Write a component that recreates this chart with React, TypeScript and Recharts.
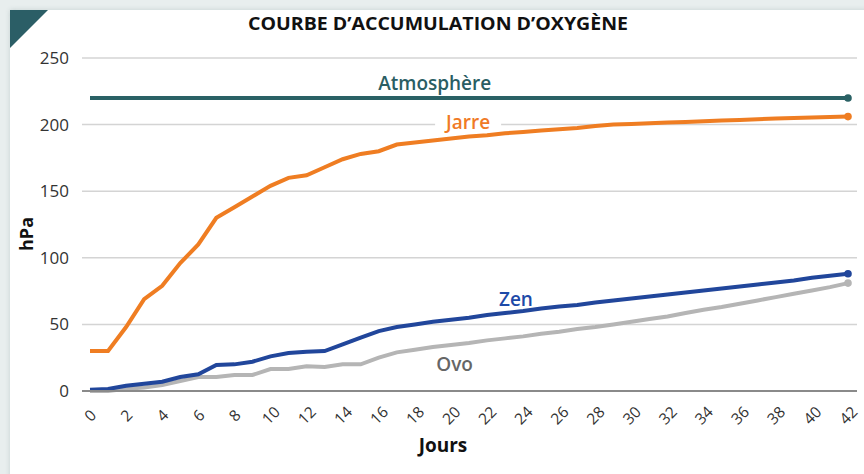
import React from 'react';
import { LineChart, Line, XAxis, YAxis, CartesianGrid, ReferenceDot } from 'recharts';

const days = [0, 1, 2, 3, 4, 5, 6, 7, 8, 9, 10, 11, 12, 13, 14, 15, 16, 17, 18, 19, 20, 21, 22, 23, 24, 25, 26, 27, 28, 29, 30, 31, 32, 33, 34, 35, 36, 37, 38, 39, 40, 41, 42];
const jarre = [30, 30, 48, 69, 79, 96, 110, 130, 138, 146, 154, 160, 162, 168, 174, 178, 180, 185, 186.5, 188, 189.5, 191, 192, 193.5, 194.5, 195.5, 196.5, 197.5, 199, 200, 200.5, 201, 201.5, 202, 202.5, 203, 203.5, 204, 204.5, 205, 205.3, 205.7, 206];
const zen = [1, 1.5, 4, 5.5, 7, 10.5, 12.5, 19.5, 20, 22, 26, 28.5, 29.5, 30, 35, 40, 45, 48, 50, 52, 53.5, 55, 57, 58.5, 60, 62, 63.5, 64.5, 66.5, 68, 69.5, 71, 72.5, 74, 75.5, 77, 78.5, 80, 81.5, 83, 85, 86.5, 88];
const ovo = [0, 0, 1.7, 2.7, 4.5, 7.5, 10.5, 10.5, 12, 12, 16.5, 16.5, 18.5, 18, 20, 20, 25, 29, 31, 33, 34.5, 36, 38, 39.5, 41, 43, 44.5, 46.5, 48, 50, 52, 54, 56, 58.5, 61, 63, 65.5, 68, 70.5, 73, 75.5, 78, 81];
const atmosphereDays = [0, 42];
const atmosphere = [220, 220];

const xTicks = [0, 2, 4, 6, 8, 10, 12, 14, 16, 18, 20, 22, 24, 26, 28, 30, 32, 34, 36, 38, 40, 42];
const yTicks = [0, 50, 100, 150, 200, 250];

const seriesNames = ['Atmosphère', 'Jarre', 'Zen', 'Ovo'];
const seriesColors = ['#2a6165', '#ef7d22', '#21469b', '#b5b5b5'];
const labelColors = ['#2a5d63', '#f07a26', '#1d4aa8', '#666666'];
const labelDays = [19.1, 20.95, 23.6, 20.2];
const labelValues = [231, 202.3, 69, 20.6];
const labelBoxWidths = [136, 66, 0, 0];

const title = "COURBE D\u2019ACCUMULATION D\u2019OXYGÈNE";
const xTitle = 'Jours';
const yTitle = 'hPa';

const data = days.map((d, i) => ({ day: d, jarre: jarre[i], zen: zen[i], ovo: ovo[i] }));
const atmData = atmosphereDays.map((d, i) => ({ day: d, atm: atmosphere[i] }));

const FONT = "'Open Sans', 'Noto Sans', sans-serif";

const endDot = (color: string, last: number) => (props: any) => {
  if (props.index === last) {
    return <circle key={`d${props.index}`} cx={props.cx} cy={props.cy} r={3.8} fill={color} />;
  }
  return <g key={`d${props.index}`} />;
};

const XTick = (props: any) => {
  const { x, y, payload } = props;
  return (
    <g transform={`translate(${x},${y + 16})`}>
      <text
        transform="rotate(-45)"
        textAnchor="middle"
        dominantBaseline="central"
        fontSize={15.5}
        fontFamily={FONT}
        fill="#333"
      >
        {payload.value}
      </text>
    </g>
  );
};

const seriesLabel = (i: number) => (p: any) => {
  const w = labelBoxWidths[i];
  return (
    <g>
      {w > 0 && (
        <rect x={p.cx - w / 2} y={p.cy - 12} width={w} height={i === 0 ? 22 : 20} fill="#fff" />
      )}
      <text
        x={p.cx}
        y={p.cy}
        textAnchor="middle"
        dominantBaseline="central"
        fontSize={19}
        fontFamily={FONT}
        fontWeight={600}
        fill={labelColors[i]}
      >
        {seriesNames[i]}
      </text>
    </g>
  );
};

export default function App() {
  return (
    <div style={{ position: 'absolute', left: 0, top: 0, width: 864, height: 474, background: '#e8eeee', overflow: 'hidden' }}>
      <div
        style={{
          position: 'absolute',
          left: 10,
          top: 10,
          width: 860,
          height: 470,
          background: '#ffffff',
          boxShadow: '0 0 5px rgba(40,80,80,0.18)',
        }}
      />
      <div style={{ position: 'absolute', left: 0, top: 0 }}>
        <LineChart width={864} height={474} data={data} margin={{ top: 58, right: 7, left: 0, bottom: 0 }}>
          <CartesianGrid vertical={false} stroke="#d4d4d4" strokeWidth={1.5} />
          <XAxis
            dataKey="day"
            type="number"
            domain={[0, 42]}
            ticks={xTicks}
            interval={0}
            padding={{ left: 8, right: 9 }}
            height={83}
            tickLine={false}
            axisLine={{ stroke: '#8a8a8a', strokeWidth: 2 }}
            tick={<XTick />}
          />
          <YAxis
            type="number"
            domain={[0, 250]}
            ticks={yTicks}
            width={82}
            axisLine={false}
            tickLine={false}
            tickMargin={7}
            tick={{ fontSize: 17, fill: '#333', fontFamily: FONT }}
          />
          <Line
            data={atmData}
            dataKey="atm"
            stroke={seriesColors[0]}
            strokeWidth={4}
            dot={endDot(seriesColors[0], atmData.length - 1)}
            activeDot={false}
            isAnimationActive={false}
          />
          <Line
            dataKey="ovo"
            stroke={seriesColors[3]}
            strokeWidth={4}
            dot={endDot(seriesColors[3], days.length - 1)}
            activeDot={false}
            isAnimationActive={false}
          />
          <Line
            dataKey="zen"
            stroke={seriesColors[2]}
            strokeWidth={4}
            dot={endDot(seriesColors[2], days.length - 1)}
            activeDot={false}
            isAnimationActive={false}
          />
          <Line
            dataKey="jarre"
            stroke={seriesColors[1]}
            strokeWidth={4}
            dot={endDot(seriesColors[1], days.length - 1)}
            activeDot={false}
            isAnimationActive={false}
          />
          {seriesNames.map((n, i) => (
            <ReferenceDot
              key={n}
              x={labelDays[i]}
              y={labelValues[i]}
              r={0}
              ifOverflow="visible"
              shape={seriesLabel(i)}
            />
          ))}
        </LineChart>
      </div>
      <svg width={864} height={474} style={{ position: 'absolute', left: 0, top: 0, pointerEvents: 'none' }}>
        <polygon points="10,10 48,10 10,48" fill="#2b5e66" />
        <text
          x={438}
          y={30}
          textAnchor="middle"
          fontSize={17}
          fontWeight={700}
          fontFamily={FONT}
          fill="#111"
          textLength={380}
          lengthAdjust="spacingAndGlyphs"
        >
          {title}
        </text>
        <text x={443} y={452} textAnchor="middle" fontSize={19} fontWeight={700} fontFamily={FONT} fill="#111">
          {xTitle}
        </text>
        <text
          transform="translate(33,234) rotate(-90)"
          textAnchor="middle"
          fontSize={18}
          fontWeight={700}
          fontFamily={FONT}
          fill="#111"
        >
          {yTitle}
        </text>
      </svg>
    </div>
  );
}
